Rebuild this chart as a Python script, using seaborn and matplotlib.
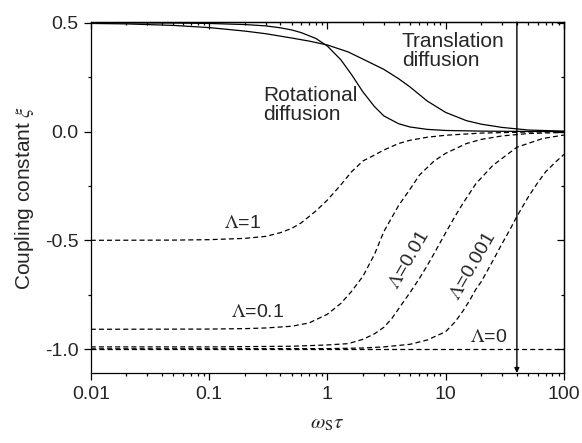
import numpy as np
import pandas as pd
import matplotlib
matplotlib.use('Agg')
import matplotlib.pyplot as plt
import seaborn as sns

# curves (x = omega_S * tau, y = coupling constant xi)
rot_x = [0.01, 0.05, 0.1, 0.2, 0.3, 0.4, 0.5, 0.6, 0.8, 1.0, 1.3, 1.6, 2.0, 2.5, 3.0, 4.0, 5.0, 7.0, 10, 20, 50, 100]
rot_y = [0.500, 0.499, 0.497, 0.492, 0.486, 0.477, 0.467, 0.455, 0.428, 0.393, 0.330, 0.262, 0.182, 0.115, 0.072,
         0.036, 0.021, 0.010, 0.005, 0.002, 0.0005, 0.0]

trans_x = [0.01, 0.02, 0.05, 0.1, 0.2, 0.3, 0.5, 0.7, 1.0, 1.5, 2.0, 3.0, 4.0, 5.0, 7.0, 10, 15, 20, 30, 50, 100]
trans_y = [0.497, 0.495, 0.488, 0.478, 0.462, 0.450, 0.430, 0.416, 0.398, 0.366, 0.333, 0.286, 0.243, 0.205, 0.140,
           0.088, 0.050, 0.034, 0.019, 0.007, 0.002]

lam1_x = [0.01, 0.05, 0.1, 0.2, 0.3, 0.4, 0.5, 0.6, 0.8, 1.0, 1.3, 1.6, 2.0, 2.5, 3.0, 4.0, 5.0, 7.0, 10, 20, 50, 100]
lam1_y = [-0.500, -0.499, -0.497, -0.491, -0.482, -0.465, -0.445, -0.420, -0.365, -0.315, -0.245, -0.185, -0.135,
          -0.108, -0.085, -0.055, -0.040, -0.026, -0.017, -0.007, -0.002, -0.001]

lam01_x = [0.01, 0.1, 0.2, 0.3, 0.5, 0.7, 1.0, 1.3, 1.6, 2.0, 2.5, 3.0, 4.0, 5.0, 6.0, 8.0, 10, 15, 20, 30, 50, 100]
lam01_y = [-0.909, -0.908, -0.906, -0.903, -0.895, -0.880, -0.840, -0.790, -0.735, -0.665, -0.565, -0.460, -0.340,
           -0.265, -0.200, -0.135, -0.100, -0.055, -0.036, -0.020, -0.009, -0.004]

lam001_x = [0.01, 0.1, 0.5, 1.0, 1.5, 2.0, 2.5, 3.0, 3.5, 4.0, 4.5, 5.0, 6.0, 7.0, 8.0, 10, 12, 14, 18, 25, 40, 66, 100]
lam001_y = [-0.990, -0.990, -0.987, -0.981, -0.975, -0.955, -0.930, -0.900, -0.860, -0.815, -0.775, -0.740, -0.675,
            -0.615, -0.560, -0.465, -0.390, -0.330, -0.240, -0.156, -0.072, -0.032, -0.016]

lam0001_x = [0.01, 1.0, 2.0, 3.0, 5.0, 7.0, 10, 12, 14, 16, 18, 20, 25, 30, 35, 40, 50, 60, 70, 85, 100]
lam0001_y = [-0.999, -0.998, -0.995, -0.990, -0.978, -0.958, -0.920, -0.875, -0.825, -0.775, -0.725, -0.690, -0.595,
             -0.515, -0.450, -0.390, -0.300, -0.235, -0.185, -0.140, -0.105]

lam0_x = [0.01, 100]
lam0_y = [-1.0, -1.0]

arrow_x = 40

sns.set_style('ticks')
plt.rcParams['font.family'] = ['Liberation Sans', 'DejaVu Sans']
plt.rcParams['mathtext.fontset'] = 'stix'

fig = plt.figure(figsize=(5.82, 4.43), dpi=100)
ax = fig.add_axes([0.156, 0.158, 0.813, 0.792])

solid = [(rot_x, rot_y), (trans_x, trans_y)]
dashed = [(lam1_x, lam1_y), (lam01_x, lam01_y), (lam001_x, lam001_y), (lam0001_x, lam0001_y), (lam0_x, lam0_y)]

for xs, ys in solid:
    sns.lineplot(x=xs, y=ys, ax=ax, color='black', lw=0.9, sort=False)
for xs, ys in dashed:
    sns.lineplot(x=xs, y=ys, ax=ax, color='black', lw=0.9, sort=False, dashes=False,
                 linestyle=(0, (4, 2.5)))

ax.set_xscale('log')
ax.set_xlim(0.01, 100)
ax.set_ylim(-1.11, 0.503)
ax.set_xticks([0.01, 0.1, 1, 10, 100])
ax.set_xticklabels(['0.01', '0.1', '1', '10', '100'])
ax.set_yticks([-1.0, -0.5, 0.0, 0.5])
ax.set_yticklabels(['-1.0', '-0.5', '0.0', '0.5'])
ax.set_yticks([-0.75, -0.25, 0.25], minor=True)
ax.tick_params(which='major', direction='out', length=5, width=0.9, labelsize=14, color='black', pad=4)
ax.tick_params(which='minor', direction='out', length=2.5, width=0.9, color='black')
for s in ax.spines.values():
    s.set_color('black')
    s.set_linewidth(0.9)

# mirrored inner ticks on top and right
top = ax.secondary_xaxis('top')
top.set_xticks([0.01, 0.1, 1, 10, 100])
top.tick_params(which='both', direction='in', labeltop=False, color='black', width=0.9)
top.tick_params(which='major', length=5)
top.tick_params(which='minor', length=2.5)
right = ax.secondary_yaxis('right')
right.set_yticks([-1.0, -0.5, 0.0, 0.5])
right.set_yticks([-0.75, -0.25, 0.25], minor=True)
right.tick_params(which='both', direction='in', labelright=False, color='black', width=0.9)
right.tick_params(which='major', length=5)
right.tick_params(which='minor', length=2.5)
for s in list(top.spines.values()) + list(right.spines.values()):
    s.set_color('black')
    s.set_linewidth(0.9)

ax.set_xlabel(r'$\omega_{\mathrm{S}}\tau$', fontsize=15, labelpad=8)
ax.set_ylabel(r'Coupling constant $\xi$', fontsize=15, labelpad=6)

ax.text(4.27, 0.459, 'Translation\ndiffusion', fontsize=15, ha='left', va='top', linespacing=1.0)
ax.text(0.285, 0.211, 'Rotational\ndiffusion', fontsize=15, ha='left', va='top', linespacing=1.0)
ax.text(0.193, -0.422, r'$\Lambda$=1', fontsize=14, ha='center', va='center')
ax.text(0.258, -0.83, r'$\Lambda$=0.1', fontsize=14, ha='center', va='center')
ax.text(4.9, -0.59, r'$\Lambda$=0.01', fontsize=14, ha='center', va='center', rotation=60)
ax.text(17.0, -0.62, r'$\Lambda$=0.001', fontsize=14, ha='center', va='center', rotation=60)
ax.text(23.2, -0.945, r'$\Lambda$=0', fontsize=14, ha='center', va='center')

ax.annotate('', xy=(arrow_x, -1.11), xytext=(arrow_x, 0.503),
            arrowprops=dict(arrowstyle='-|>', color='black', lw=1.0, mutation_scale=7, shrinkA=0, shrinkB=0))

fig.savefig('out.png', dpi=100)
